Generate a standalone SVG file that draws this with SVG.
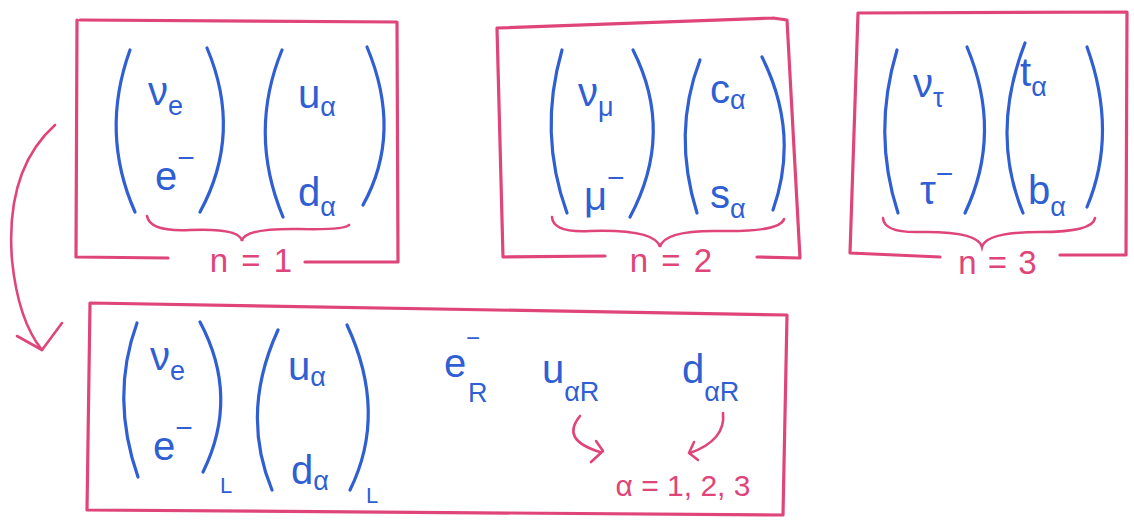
<svg xmlns="http://www.w3.org/2000/svg" width="1134" height="522" viewBox="0 0 1134 522">
<defs>
<style>
.box{fill:none;stroke:#e0457a;stroke-width:3.2;stroke-linecap:round;stroke-linejoin:round}
.br{fill:none;stroke:#e0457a;stroke-width:2.6;stroke-linecap:round}
.par{fill:none;stroke:#2f5fd3;stroke-width:3.2;stroke-linecap:round}
.m{font-family:"Liberation Sans",Arial,sans-serif;font-size:40px;fill:#2f5fd3}
.s{font-size:27px}
.sup{font-size:30px}
.r{font-family:"Liberation Sans",Arial,sans-serif;font-size:33px;fill:#e0457a}
.arr{fill:none;stroke:#e0457a;stroke-width:2.6;stroke-linecap:round;stroke-linejoin:round}
</style>
</defs>
<rect width="1134" height="522" fill="#ffffff"/>

<g id="gen1">
<path class="box" d="M80 20 L397 22 L398 262 L305 262 M168 258 L76 257 L77 20"/>
<path class="par" d="M130 50 Q100 133 135 212"/>
<path class="par" d="M207 48 Q243 133 200 212"/>
<path class="par" d="M282 50 Q248 133 283 217"/>
<path class="par" d="M367 47 Q403 133 363 205"/>
<text class="m" x="148" y="105">ν<tspan class="s" dy="10">e</tspan></text>
<text class="m" x="155" y="190">e<tspan class="sup" dy="-22">−</tspan></text>
<text class="m" x="298" y="108">u<tspan class="s" dy="8">α</tspan></text>
<text class="m" x="298" y="206">d<tspan class="s" dy="10">α</tspan></text>
<path class="br" d="M147 216 Q150 232 190 230 Q240 228 242 241 Q244 228 300 229 Q345 230 349 225"/>
<text class="r" x="252" y="272" text-anchor="middle" letter-spacing="2">n = 1</text>
</g>

<g id="gen2">
<path class="box" d="M773 18 L497 28 L503 257 L605 256 M757 257 L800 258 L787 20 L773 18"/>
<path class="par" d="M562 50 Q538 133 567 213"/>
<path class="par" d="M633 50 Q675 133 630 217"/>
<path class="par" d="M700 60 Q672 133 697 213"/>
<path class="par" d="M762 57 Q800 133 773 210"/>
<text class="m" x="578" y="106">ν<tspan class="s" dy="10">μ</tspan></text>
<text class="m" x="584" y="210">μ<tspan class="sup" dy="-22">−</tspan></text>
<text class="m" x="710" y="103">c<tspan class="s" dy="6">α</tspan></text>
<text class="m" x="710" y="208">s<tspan class="s" dy="10">α</tspan></text>
<path class="br" d="M552 217 Q553 233 590 231 Q655 229 660 247 Q664 230 720 231 Q780 232 784 219"/>
<text class="r" x="672" y="272" text-anchor="middle" letter-spacing="2">n = 2</text>
</g>

<g id="gen3">
<path class="box" d="M858 13 L1127 12 L1126 255 L1060 255 M940 257 L850 253 L858 13"/>
<path class="par" d="M897 50 Q872 133 898 213"/>
<path class="par" d="M967 47 Q1003 133 965 213"/>
<path class="par" d="M1025 43 Q990 133 1023 213"/>
<path class="par" d="M1087 47 Q1118 133 1087 207"/>
<text class="m" x="913" y="97">ν<tspan class="s" dy="10">τ</tspan></text>
<text class="m" x="920" y="204">τ<tspan class="sup" dy="-20">−</tspan></text>
<text class="m" x="1020" y="86">t<tspan class="s" dy="10">α</tspan></text>
<text class="m" x="1028" y="204">b<tspan class="s" dy="12">α</tspan></text>
<path class="br" d="M883 218 Q884 233 920 232 Q978 231 982 247 Q986 232 1040 232 Q1093 232 1095 218"/>
<text class="r" x="998" y="274" text-anchor="middle" letter-spacing="1">n = 3</text>
</g>

<g id="gen1-detail">
<path class="box" d="M90 303 L787 315 L783 515 L87 510 L90 303"/>
<path class="par" d="M137 323 Q110 397 138 477"/>
<path class="par" d="M200 322 Q240 397 203 472"/>
<path class="par" d="M278 330 Q240 413 272 490"/>
<path class="par" d="M347 325 Q388 413 350 490"/>
<text class="m" x="150" y="370">ν<tspan class="s" dy="10">e</tspan></text>
<text class="m" x="153" y="460">e<tspan class="sup" dy="-22">−</tspan></text>
<text class="m" x="220" y="493" style="font-size:22px">L</text>
<text class="m" x="288" y="380">u<tspan class="s" dy="6">α</tspan></text>
<text class="m" x="291" y="484">d<tspan class="s" dy="6">α</tspan></text>
<text class="m" x="366" y="503" style="font-size:22px">L</text>
<text class="m" x="444" y="377">e</text>
<text class="m" x="466" y="346" style="font-size:24px">−</text>
<text class="m" x="468" y="402" style="font-size:27px">R</text>
<text class="m" x="542" y="383">u<tspan class="s" dy="18">αR</tspan></text>
<text class="m" x="682" y="383">d<tspan class="s" dy="18">αR</tspan></text>
<path class="arr" d="M580 416 Q560 440 600 452"/>
<path class="arr" d="M596 441 L603 451 L591 462"/>
<path class="arr" d="M723 413 Q726 440 690 453"/>
<path class="arr" d="M694 442 L689 453 L698 460"/>
<text class="r" x="683" y="496" text-anchor="middle" style="font-size:30px">α = 1, 2, 3</text>
</g>

<g id="connectors">
<path class="arr" d="M55 125 Q5 170 12 260 Q18 320 42 350"/>
<path class="arr" d="M17 336 L42 350 L62 323"/>
</g>
</svg>
